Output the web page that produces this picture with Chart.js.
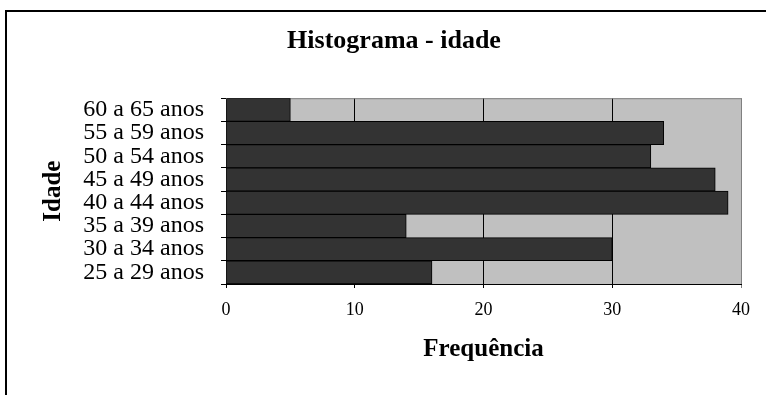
<!DOCTYPE html>
<html>
<head>
<meta charset="utf-8">
<script src="https://cdn.jsdelivr.net/npm/chart.js@4"></script>
<style>
  html, body { margin: 0; padding: 0; background: #fff; overflow: hidden; }
  #wrap { position: relative; width: 766px; height: 395px; overflow: hidden; }
  #grafico { position: absolute; left: 0; top: 0; }
  #moldura {
    position: absolute; left: 5px; top: 10px; width: 2000px; height: 2000px;
    border-top: 2px solid #000; border-left: 2px solid #000; pointer-events: none;
  }
</style>
</head>
<body>
<div id="wrap">
  <canvas id="grafico" width="790" height="395"></canvas>
  <div id="moldura"></div>
</div>
<script>
// faixas etárias (de cima para baixo) e frequências
const faixas = ["60 a 65 anos", "55 a 59 anos", "50 a 54 anos", "45 a 49 anos",
                "40 a 44 anos", "35 a 39 anos", "30 a 34 anos", "25 a 29 anos"];
const frequencia = [5, 34, 33, 38, 39, 14, 30, 16];
const marcasX = [0, 10, 20, 30, 40];

const serif = "'Liberation Serif', 'Times New Roman', serif";

// fundo cinza da área do gráfico
const fundoPlot = {
  id: "fundoPlot",
  beforeDraw(chart) {
    const { ctx, chartArea: a } = chart;
    ctx.save();
    ctx.fillStyle = "#C0C0C0";
    ctx.fillRect(a.left, a.top, a.right - a.left, a.bottom - a.top);
    ctx.restore();
  },
  beforeDatasetsDraw(chart) {
    const { ctx, chartArea: a } = chart;
    ctx.save();
    ctx.strokeStyle = "#808080";
    ctx.lineWidth = 1;
    ctx.beginPath();
    ctx.moveTo(a.left, a.top + 0.5);
    ctx.lineTo(a.right + 0.5, a.top + 0.5);
    ctx.lineTo(a.right + 0.5, a.bottom);
    ctx.stroke();
    ctx.restore();
  }
};

new Chart(document.getElementById("grafico"), {
  type: "bar",
  data: {
    labels: faixas,
    datasets: [{
      data: frequencia,
      backgroundColor: "#333333",
      borderColor: "#000000",
      borderWidth: 1,
      barPercentage: 1,
      categoryPercentage: 1
    }]
  },
  options: {
    indexAxis: "y",
    responsive: false,
    animation: false,
    layout: { padding: { left: 47, right: 49, top: 0, bottom: 0 } },
    plugins: {
      legend: { display: false },
      tooltip: { enabled: false },
      title: {
        display: true,
        text: "Histograma - idade",
        color: "#000",
        font: { family: serif, size: 26, weight: "bold" },
        padding: { top: 26, bottom: 41 }
      }
    },
    scales: {
      x: {
        min: marcasX[0],
        max: marcasX[marcasX.length - 1],
        afterFit(scale) { scale.height = 111; },
        ticks: {
          stepSize: marcasX[1] - marcasX[0],
          color: "#000",
          padding: 11,
          font: { family: serif, size: 18 }
        },
        grid: {
          color: c => (c.tick && c.tick.value === 40 ? "#808080" : "#000"),
          lineWidth: 1,
          tickLength: 4
        },
        border: { color: "#000", width: 1 },
        title: {
          display: true,
          text: "Frequência",
          color: "#000",
          font: { family: serif, size: 25, weight: "bold" },
          padding: { top: 0, bottom: 30 }
        }
      },
      y: {
        afterFit(scale) { scale.width = 179; },
        ticks: {
          autoSkip: false,
          color: "#000",
          padding: 17,
          font: { family: serif, size: 24 }
        },
        grid: {
          offset: true,
          drawOnChartArea: false,
          color: "#000",
          tickLength: 5
        },
        border: { color: "#000", width: 1 },
        title: {
          display: true,
          text: "Idade",
          color: "#000",
          font: { family: serif, size: 25, weight: "bold", lineHeight: 0.5 },
          padding: { top: 0, bottom: 0 }
        }
      }
    }
  },
  plugins: [fundoPlot]
});
</script>
</body>
</html>
